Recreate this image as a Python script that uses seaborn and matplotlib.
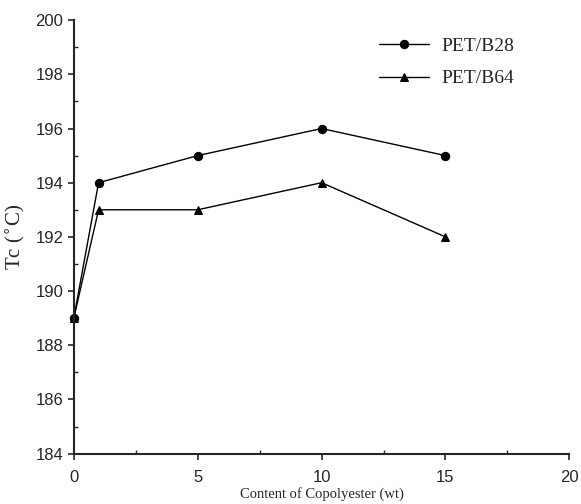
import numpy as np
import pandas as pd
import seaborn as sns
import matplotlib.pyplot as plt
from matplotlib.ticker import MultipleLocator

content = [0, 1, 5, 10, 15]
tc_b28 = [189, 194, 195, 196, 195]
tc_b64 = [189, 193, 193, 194, 192]
labels = ['PET/B28', 'PET/B64']

df = pd.DataFrame({
    'content': content * 2,
    'tc': tc_b28 + tc_b64,
    'sample': [labels[0]] * len(content) + [labels[1]] * len(content),
})

sns.set_style('ticks')
plt.rcParams['font.family'] = ['Liberation Sans', 'DejaVu Sans']

fig = plt.figure(figsize=(5.81, 5.04), dpi=100)
ax = fig.add_axes([0.127, 0.10, 0.853, 0.86])

sns.lineplot(data=df, x='content', y='tc', hue='sample', style='sample',
             markers=['o', '^'], dashes=False, palette=['black', 'black'],
             linewidth=1.0, markersize=6, markeredgecolor='black', ax=ax,
             clip_on=False)

ax.set_xlim(0, 20)
ax.set_ylim(184, 200)
ax.xaxis.set_major_locator(MultipleLocator(5))
ax.xaxis.set_minor_locator(MultipleLocator(2.5))
ax.yaxis.set_major_locator(MultipleLocator(2))
ax.yaxis.set_minor_locator(MultipleLocator(1))
ax.tick_params(which='major', direction='out', length=4, width=1.2, labelsize=12)
ax.tick_params(axis='x', which='major', pad=8)
ax.tick_params(which='minor', direction='in', length=3, width=1)
for s in ['left', 'bottom']:
    ax.spines[s].set_linewidth(1.5)
sns.despine(ax=ax)

ax.set_xlabel('Content of Copolyester (wt)', family='Liberation Serif', fontsize=10.5, labelpad=1)
ax.set_ylabel('Tc ($^{\\circ}$C)', family='Liberation Serif', fontsize=15, labelpad=6)

leg = ax.legend(title=None, frameon=False, loc='upper left',
                bbox_to_anchor=(0.58, 1.0), prop={'family': 'Liberation Serif', 'size': 14},
                handlelength=2.6, handletextpad=0.6, labelspacing=0.75)

fig.savefig('out.png', dpi=100)
